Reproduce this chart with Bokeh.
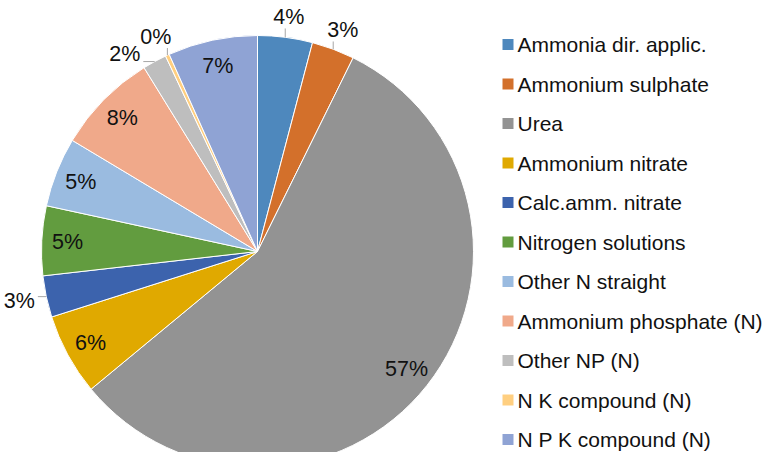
import math
from bokeh.plotting import figure
from bokeh.models import Range1d, ColumnDataSource
from bokeh.embed import file_html
from bokeh.resources import INLINE
from bokeh.core.properties import value

# ---- data ----
categories = ["Ammonia dir. applic.", "Ammonium sulphate", "Urea", "Ammonium nitrate",
              "Calc.amm. nitrate", "Nitrogen solutions", "Other N straight",
              "Ammonium phosphate (N)", "Other NP (N)", "N K compound (N)", "N P K compound (N)"]
shares = [4.1, 3.2, 56.7, 6.1, 3.1, 5.2, 5.2, 7.6, 1.8, 0.3, 6.7]
colors = ["#4E88BD", "#D3702B", "#939393", "#E0A900", "#3C63AD", "#629C3F",
          "#9ABBE0", "#F0A98A", "#BEBEBE", "#FFCF80", "#8FA3D4"]

# ---- layout (1 data unit = 1 screen px) ----
W, H = 766, 452
CX, CY, R = 257.0, 201.0, 216.0
FONT = value("Liberation Sans")
FS = "21.5px"
LFS = "21px"
TXT = "#111111"
EM = 21.5

p = figure(width=W, height=H, x_range=Range1d(0, W), y_range=Range1d(0, H),
           output_backend="svg", toolbar_location=None,
           x_axis_type=None, y_axis_type=None, min_border=0,
           outline_line_color=None, background_fill_color="white",
           border_fill_color="white")
p.xgrid.visible = False
p.ygrid.visible = False

total = sum(shares)
fr = [s / total for s in shares]
cum0, cum1 = [], []
c = 0.0
for f in fr:
    cum0.append(c)
    c += f
    cum1.append(c)

start = [math.pi / 2 - 2 * math.pi * a for a in cum0]
end = [math.pi / 2 - 2 * math.pi * b for b in cum1]
src = ColumnDataSource(dict(start=start, end=end, color=colors, cat=categories))
p.wedge(x=CX, y=CY, radius=R, start_angle="start", end_angle="end", direction="clock",
        fill_color="color", line_color="white", line_width=1, source=src)

labels = [f"{round(f * 100):.0f}%" for f in fr]

def text_w(t):
    w = {"%": 0.889}
    return sum(w.get(ch, 0.556) for ch in t) * EM

in_x, in_y, in_t = [], [], []
out_items = []
for i, f in enumerate(fr):
    th = 2 * math.pi * (cum0[i] + cum1[i]) / 2
    s, co = math.sin(th), math.cos(th)
    if f >= 0.05:
        in_x.append(CX + 0.88 * R * s)
        in_y.append(CY + 0.88 * R * co)
        in_t.append(labels[i])
    else:
        out_items.append((i, th))

# outside labels with simple collision avoidance (last slice first)
placed = []
out_x, out_y, out_t = [], [], []
lead_xs, lead_ys = [], []
HH = 8.0
for i, th0 in reversed(out_items):
    hw = text_w(labels[i]) / 2
    th = th0
    while True:
        s, co = math.sin(th), math.cos(th)
        ax, ay = CX + (R + 12) * s, CY + (R + 12) * co
        cx, cy = ax + hw * s, ay + HH * co
        box = (cx - hw, cx + hw, cy - HH, cy + HH)
        clash = any(not (box[1] < b[0] or box[0] > b[1] or box[3] < b[2] or box[2] > b[3]) for b in placed)
        if not clash:
            break
        th -= 0.005
    placed.append(box)
    out_x.append(cx)
    out_y.append(cy)
    out_t.append(labels[i])
    ex, ey = CX + R * math.sin(th0), CY + R * math.cos(th0)
    nx = min(max(ex, box[0]), box[1])
    ny = min(max(ey, box[2]), box[3])
    d = math.hypot(nx - ex, ny - ey)
    if d > 4:
        k = (d - 3) / d
        lead_xs.append([ex, ex + (nx - ex) * k])
        lead_ys.append([ey, ey + (ny - ey) * k])

p.multi_line(xs=lead_xs, ys=lead_ys, line_color="#A6A6A6", line_width=1)
p.text(x=in_x, y=in_y, text=in_t, text_align="center", text_baseline="middle",
       text_font=FONT, text_font_size=FS, text_color=TXT)
p.text(x=out_x, y=out_y, text=out_t, text_align="center", text_baseline="middle",
       text_font=FONT, text_font_size=FS, text_color=TXT)

# ---- legend ----
top_row = 408.0
step = 39.5
ly = [top_row - step * i for i in range(len(categories))]
p.rect(x=[507.5] * len(categories), y=ly, width=11, height=11, fill_color=colors, line_color=None)
p.text(x=[517] * len(categories), y=ly, text=categories, text_align="left", text_baseline="middle",
       text_font=FONT, text_font_size=LFS, text_color=TXT)

open("out.html", "w").write(file_html(p, INLINE))
